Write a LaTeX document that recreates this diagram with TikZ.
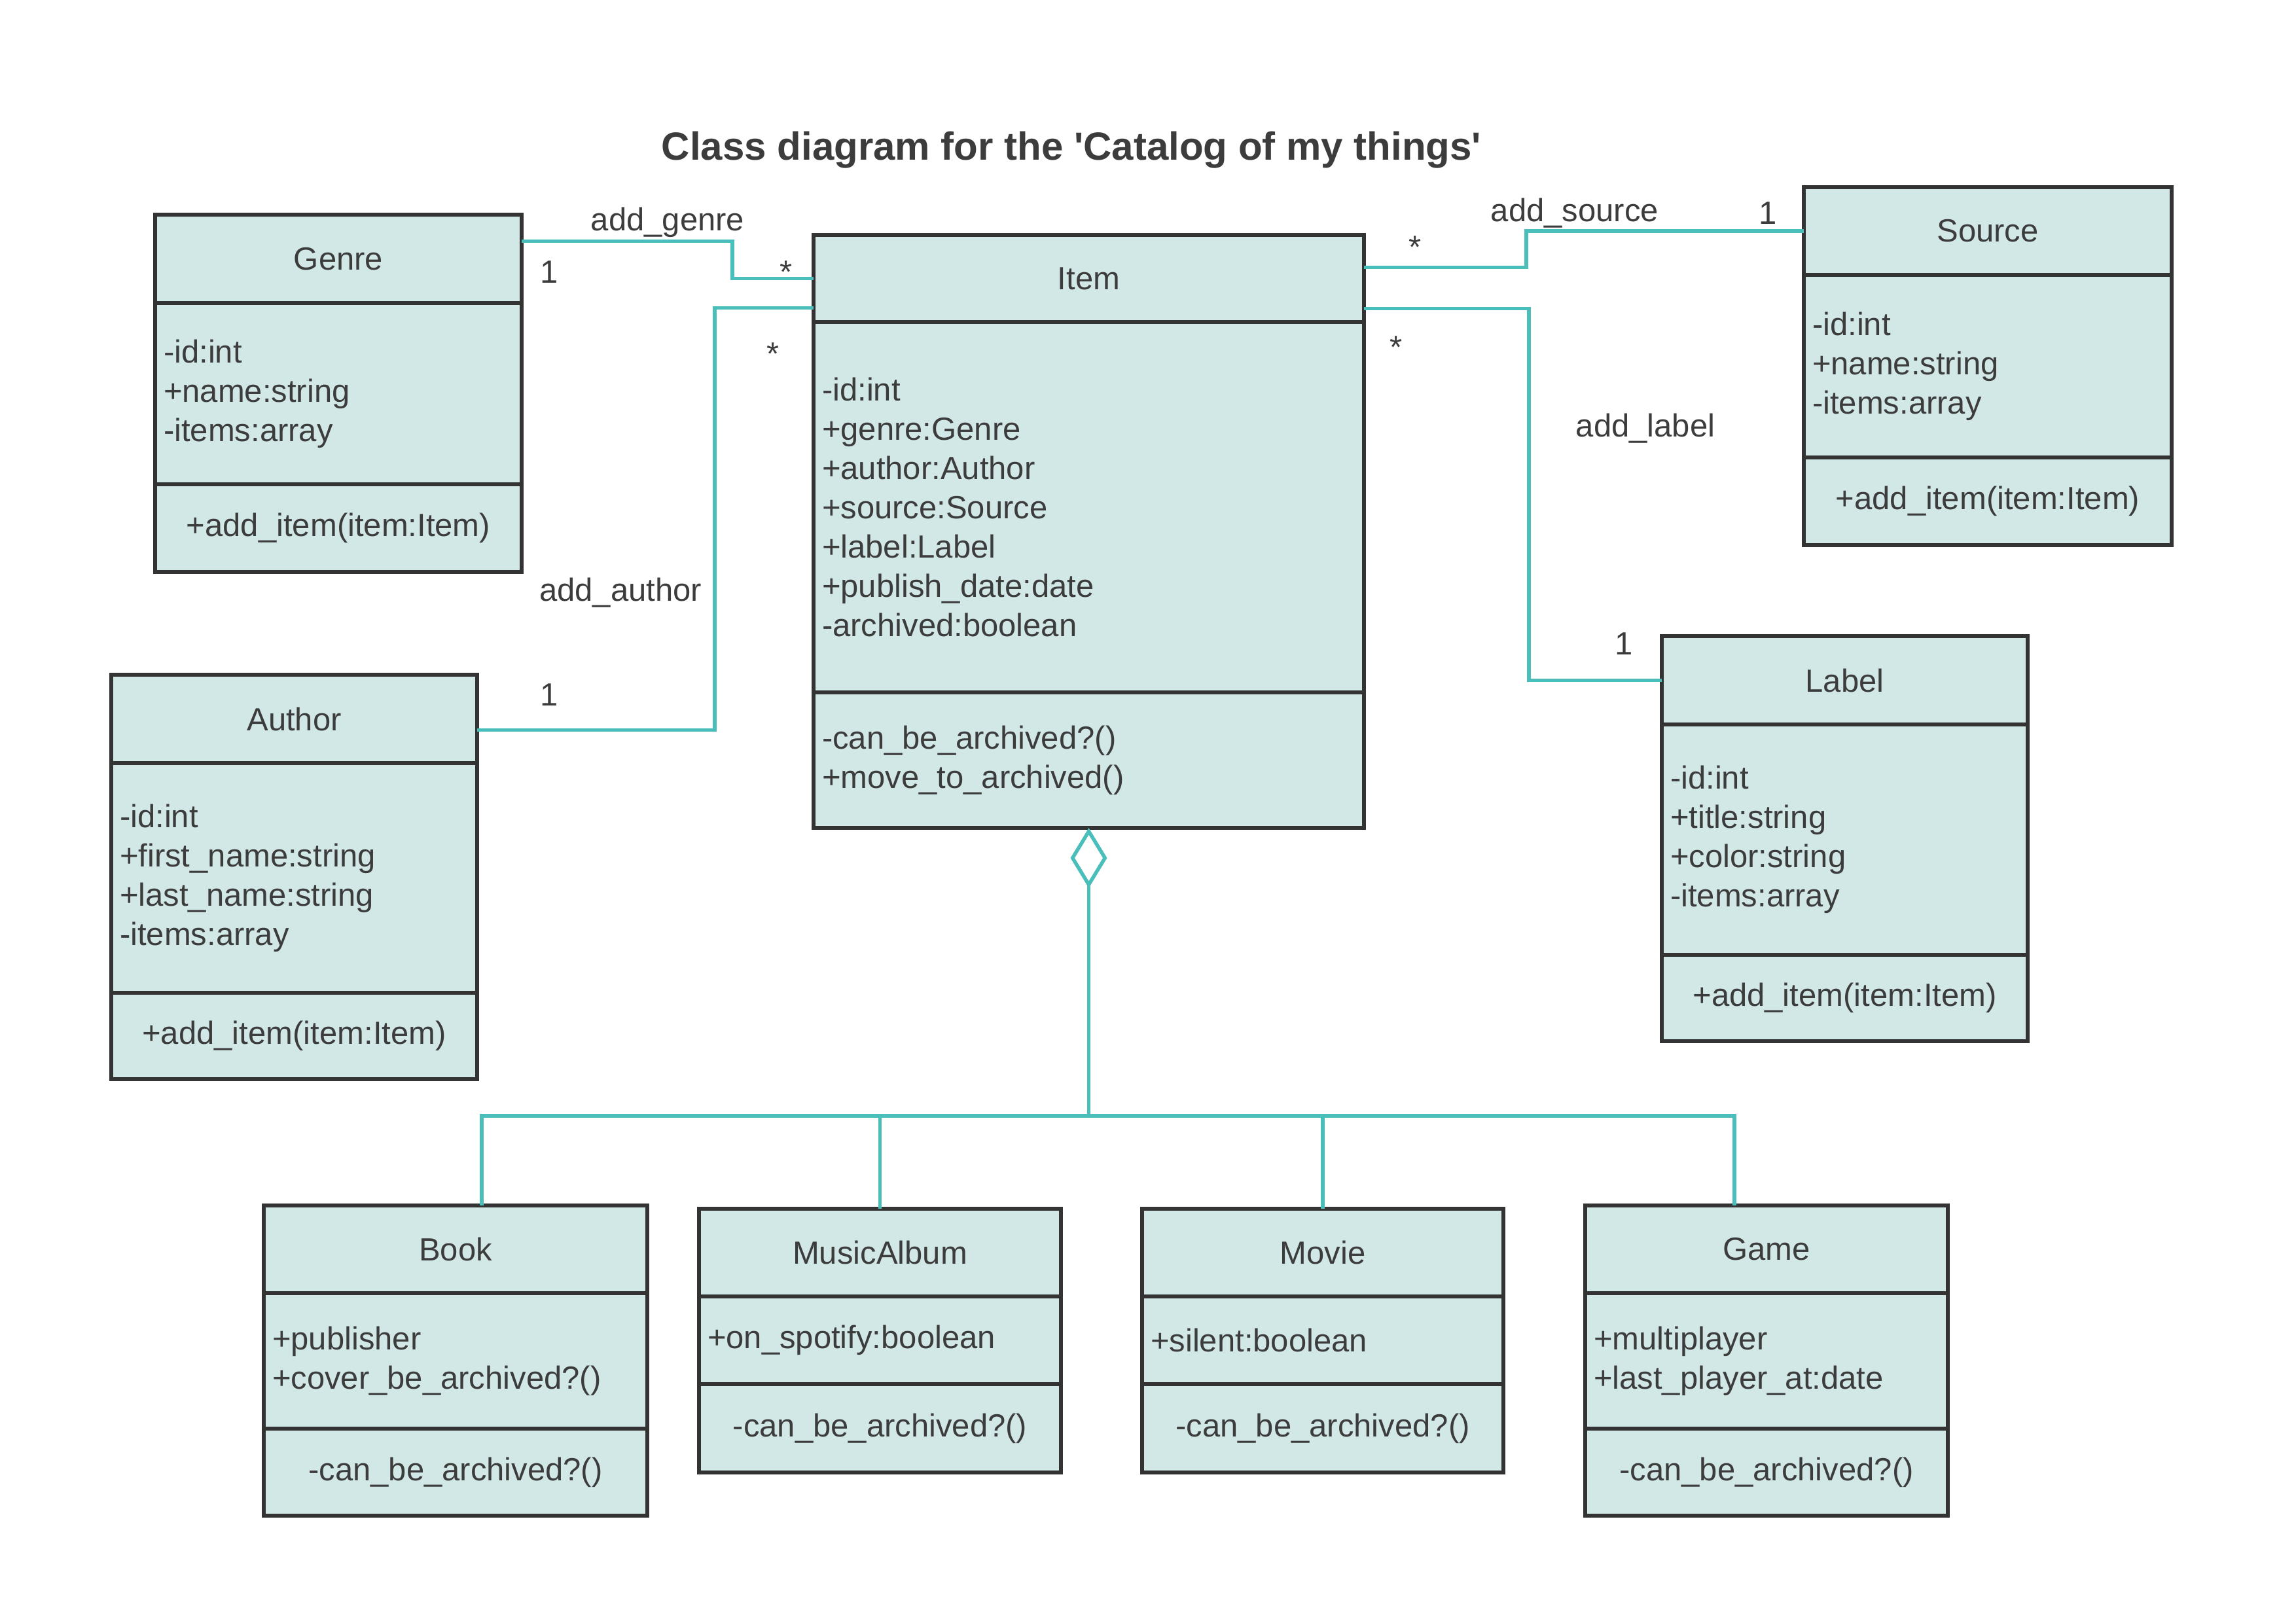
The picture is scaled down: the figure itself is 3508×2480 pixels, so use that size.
\documentclass[tikz,border=0pt]{standalone}
\usepackage{fontspec}
\setmainfont{Liberation Sans}
\usepackage{tikz}
\usetikzlibrary{positioning,arrows.meta}

\definecolor{boxfill}{HTML}{D1E8E7}
\definecolor{boxline}{HTML}{333333}
\definecolor{linkc}{HTML}{4ABEBB}
\definecolor{ink}{HTML}{3C3C3C}
\newcommand{\boxfont}{\fontsize{49pt}{60pt}\selectfont}

\begin{document}
\begin{tikzpicture}[x=1pt,y=-1pt,
	cls/.style={draw=boxline,line width=5.5pt,fill=boxfill,text=ink,font=\boxfont,
		inner xsep=13pt,inner ysep=0pt,outer sep=0pt,anchor=north},
	head/.style={cls,align=center},
	attr/.style={cls,align=left},
	oper/.style={cls,align=center},
	assoc/.style={draw=linkc,line width=5.5pt},
	mult/.style={text=ink,font=\boxfont,text height=35pt,text depth=10pt,inner sep=0pt}]
	\useasboundingbox (0,0) rectangle (3508,2480);
	
	\node[text=ink,font=\fontsize{60pt}{70pt}\selectfont\bfseries] (title) at (1637,229)
		{Class diagram for the \textquotesingle Catalog of my things\textquotesingle};
	
	% Genre
	\node[head,text width=534pt,minimum height=135pt] (genre) at (517,328) {Genre};
	\node[attr,text width=534pt,minimum height=277pt,below=0pt of genre] (genreA)
		{-id:int\\+name:string\\-items:array};
	\node[oper,text width=534pt,minimum height=134pt,below=0pt of genreA] (genreM)
		{+add\_item(item:Item)};
	
	% Item
	\node[head,text width=815pt,minimum height=133pt] (item) at (1663.5,359) {Item};
	\node[attr,text width=815pt,minimum height=566pt,below=0pt of item] (itemA)
		{-id:int\\+genre:Genre\\+author:Author\\+source:Source\\+label:Label\\+publish\_date:date\\-archived:boolean};
	\node[attr,text width=815pt,minimum height=207pt,below=0pt of itemA] (itemM)
		{-can\_be\_archived?()\\+move\_to\_archived()};
	
	% Source
	\node[head,text width=536pt,minimum height=134pt] (source) at (3037,286) {Source};
	\node[attr,text width=536pt,minimum height=279pt,below=0pt of source] (sourceA)
		{-id:int\\+name:string\\-items:array};
	\node[oper,text width=536pt,minimum height=134pt,below=0pt of sourceA] (sourceM)
		{+add\_item(item:Item)};
	
	% Author
	\node[head,text width=533pt,minimum height=135pt] (author) at (449.5,1031) {Author};
	\node[attr,text width=533pt,minimum height=351pt,below=0pt of author] (authorA)
		{-id:int\\+first\_name:string\\+last\_name:string\\-items:array};
	\node[oper,text width=533pt,minimum height=132pt,below=0pt of authorA] (authorM)
		{+add\_item(item:Item)};
	
	% Label
	\node[head,text width=533pt,minimum height=135pt] (label) at (2818.5,972) {Label};
	\node[attr,text width=533pt,minimum height=352pt,below=0pt of label] (labelA)
		{-id:int\\+title:string\\+color:string\\-items:array};
	\node[oper,text width=533pt,minimum height=132pt,below=0pt of labelA] (labelM)
		{+add\_item(item:Item)};
	
	% subclasses
	\node[head,text width=560pt,minimum height=134pt] (book) at (696,1842) {Book};
	\node[attr,text width=560pt,minimum height=207pt,below=0pt of book] (bookA)
		{+publisher\\+cover\_be\_archived?()};
	\node[oper,text width=560pt,minimum height=133pt,below=0pt of bookA] (bookM)
		{-can\_be\_archived?()};
	
	\node[head,text width=527pt,minimum height=134pt] (music) at (1344.5,1847) {MusicAlbum};
	\node[attr,text width=527pt,minimum height=134pt,below=0pt of music] (musicA)
		{+on\_spotify:boolean};
	\node[oper,text width=527pt,minimum height=135pt,below=0pt of musicA] (musicM)
		{-can\_be\_archived?()};
	
	\node[head,text width=526pt,minimum height=134pt] (movie) at (2021,1847) {Movie};
	\node[attr,text width=526pt,minimum height=134pt,below=0pt of movie] (movieA)
		{+silent:boolean};
	\node[oper,text width=526pt,minimum height=135pt,below=0pt of movieA] (movieM)
		{-can\_be\_archived?()};
	
	\node[head,text width=528pt,minimum height=134pt] (game) at (2699,1842) {Game};
	\node[attr,text width=528pt,minimum height=207pt,below=0pt of game] (gameA)
		{+multiplayer\\+last\_player\_at:date};
	\node[oper,text width=528pt,minimum height=133pt,below=0pt of gameA] (gameM)
		{-can\_be\_archived?()};
	
	% associations
	\draw[assoc] ([yshift=27pt]genre.east) -- ++(322,0) |- (item.west);
	\draw[assoc] ([yshift=-17pt]author.east) -- ++(363,0) |- ([yshift=-45pt]item.west);
	\draw[assoc] ([yshift=17pt]item.east) -- ++(248,0) |- (source.west);
	\draw[assoc] ([yshift=-46pt]item.east) -- ++(252,0) |- (label.west);
	
	% aggregation
	\draw[assoc,{Diamond[open,length=92pt,width=56pt]}-] (itemM.south) -- ++(0,440) coordinate (bus);
	\draw[assoc] ([xshift=40pt]book.north) |- (bus) -| ([xshift=-49pt]game.north);
	\draw[assoc] (music.north) -- (music.north |- bus);
	\draw[assoc] (movie.north) -- (movie.north |- bus);
	
	% labels
	\node[mult] (genreRole) at (1020,340) {add\_genre};
	\node[mult] (genreOne) at (839,420) {1};
	\node[mult] (genreMany) at (1201,420) {*};
	\node[mult] (authorRole) at (948,906) {add\_author};
	\node[mult] (authorOne) at (839,1066) {1};
	\node[mult] (authorMany) at (1181,545) {*};
	\node[mult] (sourceRole) at (2406,326) {add\_source};
	\node[mult] (sourceOne) at (2701,330) {1};
	\node[mult] (sourceMany) at (2162,382) {*};
	\node[mult] (labelRole) at (2514,655) {add\_label};
	\node[mult] (labelOne) at (2481,988) {1};
	\node[mult] (labelMany) at (2133,535) {*};
\end{tikzpicture}
\end{document}
